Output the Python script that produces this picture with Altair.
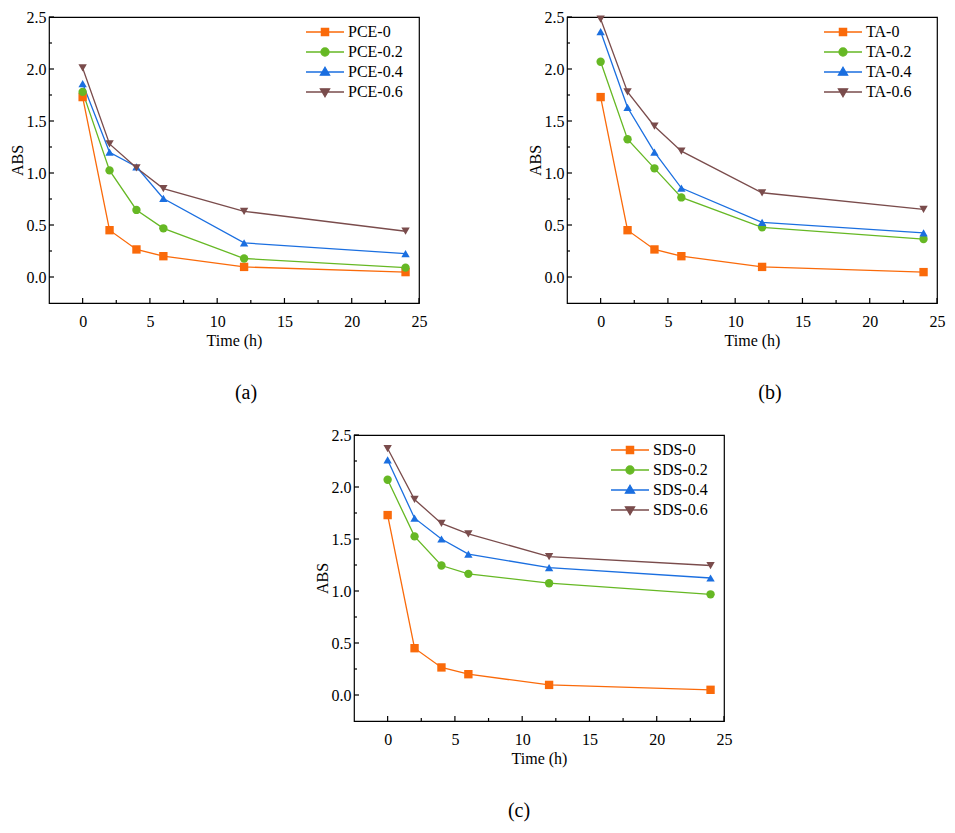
import altair as alt
import pandas as pd

time_h = [0, 2, 4, 6, 12, 24]

pce_labels = ["PCE-0", "PCE-0.2", "PCE-0.4", "PCE-0.6"]
pce_0 = [1.73, 0.45, 0.265, 0.20, 0.097, 0.047]
pce_02 = [1.78, 1.025, 0.645, 0.468, 0.178, 0.09]
pce_04 = [1.86, 1.20, 1.06, 0.755, 0.328, 0.225]
pce_06 = [2.01, 1.28, 1.05, 0.85, 0.632, 0.44]

ta_labels = ["TA-0", "TA-0.2", "TA-0.4", "TA-0.6"]
ta_0 = [1.73, 0.45, 0.265, 0.20, 0.097, 0.047]
ta_02 = [2.07, 1.325, 1.045, 0.765, 0.478, 0.365]
ta_04 = [2.36, 1.63, 1.20, 0.855, 0.525, 0.425]
ta_06 = [2.48, 1.78, 1.45, 1.21, 0.81, 0.65]

sds_labels = ["SDS-0", "SDS-0.2", "SDS-0.4", "SDS-0.6"]
sds_0 = [1.73, 0.45, 0.265, 0.20, 0.097, 0.05]
sds_02 = [2.07, 1.525, 1.245, 1.165, 1.075, 0.968]
sds_04 = [2.26, 1.70, 1.50, 1.355, 1.225, 1.125]
sds_06 = [2.37, 1.88, 1.65, 1.55, 1.33, 1.245]

x_major = [0, 5, 10, 15, 20, 25]
x_minor = [2.5, 7.5, 12.5, 17.5, 22.5]
y_major = [0.0, 0.5, 1.0, 1.5, 2.0, 2.5]
y_minor = [0.25, 0.75, 1.25, 1.75, 2.25]

colors = ["#FA6A0A", "#66B824", "#1B6FE0", "#7A4C4C"]
shapes = ["square", "circle", "triangle-up", "triangle-down"]
legend_paths = [
    "M-0.95,0H0.95M-0.18,-0.18H0.18V0.18H-0.18Z",
    "M-0.95,0H0.95M-0.2,0A0.2,0.2 0 1,0 0.2,0A0.2,0.2 0 1,0 -0.2,0Z",
    "M-0.95,0H0.95M0,-0.24L0.23,0.16L-0.23,0.16Z",
    "M-0.95,0H0.95M0,0.24L0.23,-0.16L-0.23,-0.16Z",
]

FONT = "Liberation Serif"
W, H = 370, 286


def panel(labels, series, caption, cap_dx):
    rows = []
    for lab, vals in zip(labels, series):
        for t, v in zip(time_h, vals):
            rows.append({"series": lab, "time": t, "abs": v})
    df = pd.DataFrame(rows)

    xs = alt.Scale(domain=[-2.5, 25], nice=False, zero=False)
    ys = alt.Scale(domain=[-0.25, 2.5], nice=False, zero=False)
    fill_s = alt.Scale(domain=labels, range=colors)
    stroke_s = alt.Scale(domain=labels, range=colors)
    shape_s = alt.Scale(domain=labels, range=legend_paths)

    xax = alt.Axis(values=x_major, ticks=False, domain=False, grid=False,
                   labelFont=FONT, titleFont=FONT,
                   labelFontSize=16, labelPadding=10, title="Time (h)",
                   titleFontSize=16, titleFontWeight="normal", titlePadding=3,
                   labelColor="black", titleColor="black", labelFlush=False)
    yax = alt.Axis(values=y_major, format=".1f", ticks=False, domain=False,
                   labelFont=FONT, titleFont=FONT,
                   grid=False, labelFontSize=16, labelPadding=3, title="ABS",
                   titleFontSize=16, titleFontWeight="normal", titlePadding=1,
                   labelColor="black", titleColor="black")

    base = alt.Chart(df)

    leg = alt.Legend(orient="none", legendX=255, legendY=5, title=None,
                     symbolSize=1600, symbolStrokeWidth=1.3, symbolOpacity=1,
                     clipHeight=20, rowPadding=0, padding=0, labelOffset=2,
                     labelFontSize=16, labelColor="black", labelFont=FONT)
    legend_layer = base.transform_filter("false").mark_point(
        filled=True, strokeWidth=1.3, opacity=1
    ).encode(
        fill=alt.Fill("series:N", scale=fill_s, legend=leg),
        stroke=alt.Stroke("series:N", scale=stroke_s, legend=leg),
        shape=alt.Shape("series:N", scale=shape_s, legend=leg),
    )

    lines = base.mark_line(strokeWidth=1.3).encode(
        x=alt.X("time:Q", scale=xs, axis=xax),
        y=alt.Y("abs:Q", scale=ys, axis=yax),
        stroke=alt.Stroke("series:N", scale=stroke_s),
        order=alt.Order("time:Q"),
    )
    layers = [legend_layer, lines]
    for lab, shp in zip(labels, shapes):
        layers.append(
            base.transform_filter(alt.datum.series == lab)
            .mark_point(shape=shp, filled=True, size=70, opacity=1)
            .encode(
                x=alt.X("time:Q", scale=xs),
                y=alt.Y("abs:Q", scale=ys),
                fill=alt.Fill("series:N", scale=fill_s),
            )
        )
    # inward ticks
    xt_major = alt.Chart(pd.DataFrame({"v": x_major})).mark_rule(color="black", strokeWidth=1.2).encode(
        x=alt.X("v:Q", scale=xs), y=alt.value(H), y2=alt.value(H - 5))
    xt_minor = alt.Chart(pd.DataFrame({"v": x_minor})).mark_rule(color="black", strokeWidth=1.2).encode(
        x=alt.X("v:Q", scale=xs), y=alt.value(H), y2=alt.value(H - 3))
    yt_major = alt.Chart(pd.DataFrame({"v": y_major})).mark_rule(color="black", strokeWidth=1.2).encode(
        y=alt.Y("v:Q", scale=ys), x=alt.value(0), x2=alt.value(5))
    yt_minor = alt.Chart(pd.DataFrame({"v": y_minor})).mark_rule(color="black", strokeWidth=1.2).encode(
        y=alt.Y("v:Q", scale=ys), x=alt.value(0), x2=alt.value(3))
    layers += [xt_major, xt_minor, yt_major, yt_minor]

    return alt.layer(*layers).properties(
        width=W, height=H,
        title=alt.TitleParams(text=caption, orient="bottom", fontSize=20,
                              fontWeight="normal", offset=35, dx=cap_dx,
                              anchor="middle", color="black", font=FONT),
    )


pa = panel(pce_labels, [pce_0, pce_02, pce_04, pce_06], "(a)", 12)
pb = panel(ta_labels, [ta_0, ta_02, ta_04, ta_06], "(b)", 18)
pc = panel(sds_labels, [sds_0, sds_02, sds_04, sds_06], "(c)", -20)

spacer = alt.Chart(pd.DataFrame({"v": [0]})).mark_point(opacity=0).encode(
    x=alt.X("v:Q", axis=None), y=alt.Y("v:Q", axis=None)
).properties(width=263, height=10, view=alt.ViewBackground(stroke="transparent"))

indep = dict(fill="independent", stroke="independent", shape="independent")
top = alt.hconcat(pa, pb, spacing=98).resolve_scale(**indep).resolve_legend(**indep)
bottom = alt.hconcat(spacer, pc, spacing=0).resolve_scale(**indep).resolve_legend(**indep)
chart = alt.vconcat(top, bottom, spacing=22).resolve_scale(**indep).resolve_legend(**indep).properties(
    padding={"left": 0, "top": 0, "right": 0, "bottom": 0}
).configure(font=FONT).configure_view(stroke="black", strokeWidth=1.2)

chart.save("out.html", embed_options={"renderer": "svg", "actions": False})
